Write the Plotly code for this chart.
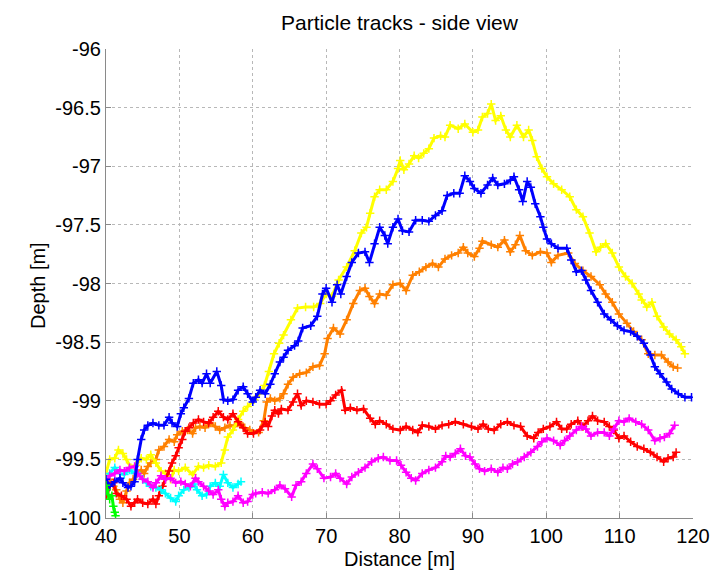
import plotly.graph_objects as go

# Particle tracks, side view: horizontal distance [m] vs depth [m]
yellow_x = [
    40.0, 40.5, 41.2, 41.7, 42.3, 42.8, 43.4, 44.1, 44.8, 45.5,
    46.1, 46.8, 47.5, 48.1, 48.8, 49.3, 49.9, 50.8, 51.8, 52.6,
    53.3, 54.0, 54.9, 55.7, 56.2, 56.6, 57.3, 58.0, 58.7, 59.3,
    60.2, 60.9, 61.6, 62.2, 62.9, 63.6, 64.2, 65.2, 66.1, 67.2,
    68.3, 69.2, 70.0, 70.8, 71.7, 72.8, 73.9, 74.8, 75.5, 76.0,
    76.6, 77.3, 78.2, 79.1, 79.8, 80.1, 80.6, 81.3, 82.0, 82.6,
    83.3, 84.0, 84.7, 85.6, 86.2, 86.9, 88.0, 88.9, 90.0, 90.7,
    91.3, 92.0, 92.5, 93.1, 93.8, 94.5, 95.1, 96.0, 96.9, 97.6,
    98.1, 98.7, 99.4, 100.1, 101.0, 102.1, 103.2, 104.1, 105.0, 105.9,
    106.8, 107.4, 108.1, 109.0, 109.9, 110.8, 111.7, 112.6, 113.0, 113.7,
    114.4, 115.1, 116.0, 116.8, 117.7, 118.4, 118.9]
yellow_y = [
    -99.62, -99.50, -99.49, -99.42, -99.45, -99.50, -99.57, -99.55, -99.49, -99.50,
    -99.46, -99.53, -99.60, -99.62, -99.67, -99.59, -99.60, -99.57, -99.63, -99.56,
    -99.57, -99.55, -99.56, -99.53, -99.42, -99.31, -99.25, -99.16, -99.09, -99.05,
    -98.99, -98.94, -98.87, -98.75, -98.60, -98.51, -98.44, -98.31, -98.21, -98.20,
    -98.20, -98.17, -98.09, -98.11, -97.97, -97.86, -97.72, -97.57, -97.52, -97.40,
    -97.26, -97.20, -97.20, -97.13, -97.02, -96.95, -97.03, -96.98, -96.91, -96.93,
    -96.89, -96.85, -96.76, -96.74, -96.75, -96.65, -96.68, -96.64, -96.71, -96.69,
    -96.58, -96.55, -96.47, -96.61, -96.57, -96.69, -96.75, -96.65, -96.75, -96.69,
    -96.78, -96.92, -97.02, -97.09, -97.15, -97.20, -97.26, -97.37, -97.43, -97.57,
    -97.73, -97.69, -97.66, -97.74, -97.86, -97.94, -98.00, -98.09, -98.14, -98.20,
    -98.16, -98.28, -98.37, -98.43, -98.48, -98.54, -98.60]

blue_x = [
    40.0, 40.5, 41.2, 41.9, 42.3, 43.0, 43.4, 43.9, 44.3, 44.8,
    45.2, 45.7, 46.4, 47.2, 47.9, 48.6, 49.0, 49.7, 50.2, 50.6,
    51.3, 51.9, 52.6, 53.1, 53.7, 54.2, 55.1, 55.7, 56.0, 56.6,
    57.3, 58.0, 58.7, 59.3, 60.0, 60.4, 61.0, 61.7, 62.4, 63.0,
    63.7, 64.2, 64.8, 65.7, 66.2, 66.8, 67.9, 68.8, 69.5, 70.0,
    70.8, 71.5, 72.0, 72.8, 73.5, 74.4, 75.3, 75.9, 76.6, 77.3,
    78.0, 78.4, 79.1, 79.8, 80.4, 81.3, 82.2, 83.1, 84.0, 84.9,
    85.8, 86.5, 87.4, 88.2, 88.9, 89.6, 90.2, 91.1, 92.0, 92.7,
    93.4, 94.3, 95.1, 95.6, 96.3, 96.8, 97.4, 97.9, 98.5, 99.2,
    99.6, 100.1, 100.7, 101.6, 102.8, 103.4, 104.1, 104.8, 105.4, 106.1,
    107.0, 107.9, 108.8, 109.7, 110.6, 111.5, 112.4, 113.3, 114.2, 114.8,
    115.5, 116.4, 117.1, 118.0, 118.9, 119.8]
blue_y = [
    -99.67, -99.73, -99.69, -99.66, -99.70, -99.74, -99.73, -99.69, -99.50, -99.33,
    -99.25, -99.21, -99.19, -99.21, -99.21, -99.14, -99.19, -99.22, -99.11, -99.06,
    -98.98, -98.85, -98.82, -98.85, -98.77, -98.85, -98.75, -98.87, -98.99, -99.00,
    -98.99, -98.91, -98.88, -98.94, -99.01, -98.97, -98.91, -98.94, -98.86, -98.77,
    -98.67, -98.63, -98.57, -98.53, -98.49, -98.38, -98.36, -98.28, -98.09, -98.04,
    -98.16, -98.01, -98.09, -97.94, -97.82, -97.74, -97.73, -97.82, -97.66, -97.52,
    -97.59, -97.66, -97.52, -97.45, -97.55, -97.56, -97.46, -97.46, -97.47, -97.42,
    -97.38, -97.25, -97.23, -97.23, -97.08, -97.13, -97.19, -97.23, -97.16, -97.10,
    -97.16, -97.15, -97.12, -97.09, -97.20, -97.30, -97.13, -97.18, -97.32, -97.43,
    -97.52, -97.62, -97.66, -97.70, -97.70, -97.80, -97.90, -97.89, -97.97, -98.06,
    -98.16, -98.26, -98.31, -98.36, -98.40, -98.41, -98.45, -98.51, -98.61, -98.71,
    -98.77, -98.84, -98.90, -98.94, -98.97, -98.97]

orange_x = [
    40.0, 40.5, 41.0, 41.4, 41.9, 42.3, 42.8, 43.2, 43.7, 44.1,
    44.8, 45.2, 45.7, 46.1, 46.8, 47.2, 47.9, 48.6, 49.3, 49.7,
    50.4, 51.1, 51.8, 52.2, 52.8, 53.5, 54.2, 54.9, 55.5, 56.2,
    56.9, 57.5, 58.2, 58.9, 59.6, 60.8, 61.5, 61.9, 62.4, 63.0,
    63.7, 64.2, 64.8, 65.5, 66.4, 67.3, 68.2, 69.1, 69.8, 70.2,
    71.0, 71.9, 72.8, 73.7, 74.6, 75.3, 75.9, 76.6, 77.3, 78.2,
    79.1, 80.1, 80.9, 81.8, 82.7, 83.6, 84.5, 85.3, 86.2, 87.1,
    88.0, 88.7, 89.3, 90.2, 90.9, 91.3, 92.5, 93.4, 94.3, 95.1,
    95.8, 96.4, 97.2, 98.1, 99.2, 100.1, 100.7, 101.6, 103.0, 103.9,
    105.0, 106.1, 107.3, 108.1, 109.0, 109.9, 111.0, 111.9, 113.0, 113.9,
    114.8, 115.7, 116.6, 117.3, 117.9]
orange_y = [
    -99.64, -99.67, -99.73, -99.76, -99.84, -99.87, -99.77, -99.70, -99.67, -99.62,
    -99.59, -99.62, -99.56, -99.53, -99.50, -99.42, -99.39, -99.33, -99.35, -99.29,
    -99.26, -99.25, -99.28, -99.23, -99.22, -99.23, -99.19, -99.22, -99.25, -99.23,
    -99.21, -99.22, -99.19, -99.23, -99.25, -99.27, -99.17, -99.01, -98.98, -99.00,
    -98.98, -98.94, -98.86, -98.80, -98.77, -98.76, -98.71, -98.70, -98.60, -98.47,
    -98.38, -98.43, -98.31, -98.17, -98.06, -98.04, -98.11, -98.17, -98.09, -98.10,
    -98.01, -98.00, -98.06, -97.93, -97.90, -97.86, -97.83, -97.86, -97.79, -97.76,
    -97.74, -97.69, -97.74, -97.77, -97.70, -97.64, -97.67, -97.69, -97.63, -97.73,
    -97.67, -97.59, -97.72, -97.76, -97.73, -97.74, -97.82, -97.76, -97.74, -97.83,
    -97.89, -97.94, -98.01, -98.09, -98.16, -98.26, -98.34, -98.41, -98.48, -98.60,
    -98.61, -98.61, -98.67, -98.71, -98.72]

red_x = [
    40.1, 40.5, 41.0, 41.4, 42.1, 42.8, 43.4, 43.9, 44.3, 45.0,
    45.7, 46.4, 46.8, 47.2, 47.7, 48.1, 48.6, 49.0, 49.5, 49.9,
    50.4, 50.8, 51.3, 51.9, 52.6, 53.3, 54.0, 54.6, 55.3, 56.0,
    56.6, 57.3, 58.0, 58.7, 59.3, 60.1, 61.0, 61.7, 62.1, 62.6,
    63.0, 63.5, 63.9, 64.8, 65.5, 66.1, 66.6, 67.3, 68.2, 69.1,
    70.0, 70.6, 71.3, 72.1, 72.6, 73.3, 74.2, 75.1, 76.0, 76.7,
    77.3, 78.2, 79.1, 80.1, 80.9, 81.8, 82.5, 83.1, 84.0, 84.9,
    85.8, 86.7, 87.6, 88.7, 89.8, 90.7, 91.4, 92.1, 92.9, 93.8,
    94.7, 95.6, 96.5, 97.4, 98.3, 98.9, 99.6, 100.5, 101.4, 102.1,
    102.8, 103.4, 104.3, 105.0, 105.7, 106.3, 107.0, 107.9, 108.6, 109.2,
    109.9, 110.6, 111.5, 112.4, 113.3, 114.2, 115.1, 116.0, 116.6, 117.3,
    117.7]
red_y = [
    -99.81, -99.73, -99.70, -99.79, -99.81, -99.84, -99.90, -99.87, -99.84, -99.87,
    -99.88, -99.84, -99.88, -99.81, -99.73, -99.67, -99.60, -99.53, -99.47, -99.40,
    -99.33, -99.26, -99.23, -99.19, -99.16, -99.18, -99.19, -99.14, -99.09, -99.14,
    -99.16, -99.11, -99.18, -99.23, -99.28, -99.28, -99.25, -99.18, -99.22, -99.13,
    -99.08, -99.11, -99.07, -99.08, -99.01, -98.94, -99.04, -99.00, -99.01, -99.03,
    -99.03, -99.00, -98.95, -98.91, -99.08, -99.06, -99.08, -99.07, -99.15, -99.20,
    -99.17, -99.20, -99.24, -99.25, -99.22, -99.25, -99.27, -99.21, -99.22, -99.24,
    -99.21, -99.20, -99.18, -99.20, -99.22, -99.24, -99.20, -99.24, -99.25, -99.20,
    -99.18, -99.21, -99.22, -99.30, -99.32, -99.27, -99.24, -99.22, -99.18, -99.24,
    -99.24, -99.20, -99.17, -99.22, -99.17, -99.13, -99.17, -99.18, -99.22, -99.25,
    -99.32, -99.30, -99.35, -99.39, -99.41, -99.44, -99.48, -99.52, -99.49, -99.48,
    -99.44]

magenta_x = [
    40.0, 40.5, 41.2, 41.9, 42.5, 43.2, 43.9, 44.3, 45.0, 45.7,
    46.4, 46.8, 47.5, 48.1, 48.8, 49.5, 50.2, 50.8, 51.5, 52.2,
    52.6, 53.3, 54.0, 54.6, 55.3, 55.7, 56.2, 56.6, 57.3, 58.0,
    58.7, 59.3, 60.0, 60.4, 61.3, 62.1, 63.0, 63.7, 64.4, 65.3,
    65.9, 66.6, 67.3, 68.2, 68.8, 69.7, 70.6, 71.3, 71.9, 72.8,
    73.5, 74.4, 75.3, 76.2, 77.1, 77.8, 78.7, 79.6, 80.2, 80.9,
    81.6, 82.2, 83.1, 84.0, 84.9, 85.8, 86.3, 86.9, 87.6, 88.3,
    89.0, 89.6, 90.3, 90.9, 91.6, 92.5, 93.4, 94.1, 94.7, 95.4,
    96.1, 97.0, 97.9, 98.8, 99.4, 100.1, 101.0, 101.9, 102.5, 103.2,
    104.1, 104.8, 105.4, 106.1, 107.0, 107.9, 108.6, 109.2, 109.9, 110.6,
    111.3, 112.2, 113.0, 113.9, 114.8, 115.5, 116.1, 116.8, 117.5]
magenta_y = [
    -99.70, -99.64, -99.62, -99.59, -99.60, -99.57, -99.56, -99.62, -99.67, -99.69,
    -99.74, -99.70, -99.64, -99.67, -99.66, -99.70, -99.69, -99.71, -99.73, -99.66,
    -99.69, -99.73, -99.77, -99.80, -99.76, -99.84, -99.90, -99.87, -99.86, -99.81,
    -99.87, -99.86, -99.80, -99.79, -99.78, -99.79, -99.76, -99.72, -99.75, -99.82,
    -99.72, -99.69, -99.62, -99.54, -99.58, -99.66, -99.65, -99.62, -99.66, -99.71,
    -99.65, -99.61, -99.57, -99.52, -99.49, -99.48, -99.51, -99.51, -99.55, -99.61,
    -99.66, -99.68, -99.62, -99.59, -99.57, -99.52, -99.47, -99.48, -99.45, -99.41,
    -99.47, -99.48, -99.54, -99.58, -99.60, -99.58, -99.61, -99.57, -99.58, -99.54,
    -99.52, -99.48, -99.44, -99.39, -99.35, -99.32, -99.34, -99.38, -99.34, -99.30,
    -99.25, -99.22, -99.24, -99.30, -99.27, -99.27, -99.30, -99.24, -99.17, -99.18,
    -99.15, -99.18, -99.20, -99.25, -99.34, -99.32, -99.31, -99.28, -99.21]

cyan_x = [
    40.0, 40.5, 41.2, 41.9, 42.5, 43.2, 43.9, 44.6, 45.0, 45.5,
    46.1, 46.8, 47.5, 48.1, 48.8, 49.5, 49.9, 50.6, 51.3, 52.0,
    52.4, 53.1, 53.7, 54.2, 54.9, 55.5, 56.0, 56.6, 57.3, 58.0,
    58.4]
cyan_y = [
    -99.67, -99.62, -99.57, -99.62, -99.63, -99.59, -99.62, -99.64, -99.67, -99.70,
    -99.73, -99.74, -99.76, -99.79, -99.83, -99.86, -99.81, -99.76, -99.74, -99.71,
    -99.76, -99.81, -99.80, -99.73, -99.70, -99.73, -99.63, -99.70, -99.74, -99.71,
    -99.69]

green_x = [40.0, 40.1, 40.3, 40.5, 40.8, 41.0, 41.2, 41.3]
green_y = [-99.72, -99.76, -99.80, -99.84, -99.81, -99.90, -99.95, -99.98]

x_ticks = [40, 50, 60, 70, 80, 90, 100, 110, 120]
x_tick_text = ["40", "50", "60", "70", "80", "90", "100", "110", "120"]
y_ticks = [-100, -99.5, -99, -98.5, -98, -97.5, -97, -96.5, -96]
y_tick_text = ["-100", "-99.5", "-99", "-98.5", "-98", "-97.5", "-97", "-96.5", "-96"]

tracks = [
    (orange_x, orange_y, "#FF8000"),
    (yellow_x, yellow_y, "#FFFF00"),
    (red_x, red_y, "#FF0000"),
    (cyan_x, cyan_y, "#00FFFF"),
    (magenta_x, magenta_y, "#FF00FF"),
    (blue_x, blue_y, "#0000FF"),
    (green_x, green_y, "#00FF00"),
]

FONT = "Liberation Sans, Arial, Helvetica, sans-serif"

fig = go.Figure()
for xs, ys, col in tracks:
    # thin line plus '+' markers at each sample, drawn in the track colour
    fig.add_trace(go.Scatter(
        x=xs, y=ys, mode="lines+markers",
        line=dict(color=col, width=3),
        marker=dict(symbol="cross-thin", size=6, color=col,
                    line=dict(color=col, width=1.5)),
        showlegend=False, hoverinfo="skip",
    ))

axis_common = dict(
    showline=True, linecolor="#8a8a8a", linewidth=1.2, mirror=False,
    showgrid=True, gridcolor="#b8b8b8", griddash="dot", gridwidth=1,
    ticks="inside", ticklen=5, tickcolor="#8a8a8a",
    zeroline=False,
    tickfont=dict(family=FONT, size=20, color="#000000"),
)

fig.update_layout(
    width=722, height=575,
    margin=dict(l=106, r=20, t=49, b=57),
    paper_bgcolor="white", plot_bgcolor="white",
    font=dict(family=FONT, color="#000000"),
    title=dict(text="Particle tracks - side view", x=0.5, xref="paper",
               y=1 - 23 / 575, yref="container", yanchor="middle",
               font=dict(family=FONT, size=21, color="#000000")),
    xaxis=dict(range=[40, 120], tickvals=x_ticks, ticktext=x_tick_text, **axis_common),
    yaxis=dict(range=[-100, -96], tickvals=y_ticks, ticktext=y_tick_text, **axis_common),
    annotations=[
        dict(text="Distance [m]", xref="paper", yref="paper", x=0.5,
             y=-(559 - 518) / 469, xanchor="center", yanchor="middle",
             showarrow=False, font=dict(family=FONT, size=20, color="#000000")),
        dict(text="Depth [m]", xref="paper", yref="paper",
             x=(37 - 106) / 596, y=0.5 - (286 - 283.5) / 469,
             xanchor="center", yanchor="middle", textangle=-90,
             showarrow=False, font=dict(family=FONT, size=20, color="#000000")),
    ],
)

fig.write_html("out.html")
